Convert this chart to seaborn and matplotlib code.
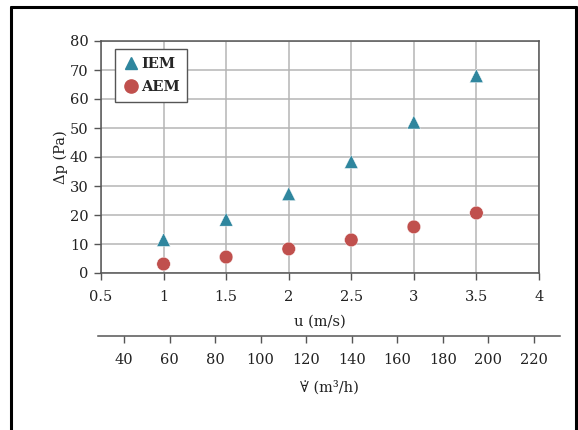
import matplotlib
matplotlib.use("Agg")
import matplotlib.pyplot as plt
import seaborn as sns
import pandas as pd
from matplotlib.lines import Line2D

u = [1.0, 1.5, 2.0, 2.5, 3.0, 3.5]
iem = [11.5, 18.5, 27.3, 38.4, 52.0, 68.0]
aem = [3.1, 5.5, 8.3, 11.4, 15.9, 20.7]
x_ticks = [0.5, 1, 1.5, 2, 2.5, 3, 3.5, 4]
x_ticklabels = ["0.5", "1", "1.5", "2", "2.5", "3", "3.5", "4"]
y_ticks = [0, 10, 20, 30, 40, 50, 60, 70, 80]
v_ticks = [40, 60, 80, 100, 120, 140, 160, 180, 200, 220]

df = pd.DataFrame({
    "u": u * 2,
    "dp": iem + aem,
    "series": ["IEM"] * len(u) + ["AEM"] * len(u),
})

sns.set_style("white")
plt.rcParams["font.family"] = ["DejaVu Serif", "DejaVu Sans"]

W, H = 578, 430
fig = plt.figure(figsize=(W / 100, H / 100), dpi=100)

L, R, T, B = 101, 539, 41, 273
ax = fig.add_axes([L / W, 1 - B / H, (R - L) / W, (B - T) / H])
palette = {"IEM": "#2F869E", "AEM": "#C0504D"}
markers = {"IEM": "^", "AEM": "o"}
sns.scatterplot(data=df, x="u", y="dp", hue="series", style="series",
                palette=palette, markers=markers, s=95, linewidth=0.3,
                edgecolor="white", ax=ax, legend=False, zorder=3)
ax.set_xlim(0.5, 4)
ax.set_ylim(0, 80)
ax.set_xticks(x_ticks)
ax.set_xticklabels(x_ticklabels)
ax.set_yticks(y_ticks)
ax.grid(True, color="#b5b5b5", linewidth=1.1)
ax.set_axisbelow(True)
for sp in ax.spines.values():
    sp.set_visible(True)
    sp.set_color("#555555")
    sp.set_linewidth(1.1)
ax.tick_params(axis="both", direction="out", length=5, width=1, color="#555555",
               labelsize=10.5, labelcolor="#222222", pad=4, bottom=True, left=True)
ax.tick_params(axis="x", pad=7)
ax.set_xlabel("u (m/s)", fontsize=10.5, color="#222222", labelpad=8)
ax.set_ylabel("Δp (Pa)", fontsize=10.5, color="#222222", labelpad=1)

handles = [
    Line2D([], [], marker="^", linestyle="none", color=palette["IEM"], markersize=9),
    Line2D([], [], marker="o", linestyle="none", color=palette["AEM"], markersize=9.5),
]
leg = ax.legend(handles, ["IEM", "AEM"], loc="upper left", bbox_to_anchor=(0.015, 0.995),
                frameon=True, fancybox=False, edgecolor="#555555", framealpha=1,
                handletextpad=0.1, handlelength=1.2, borderpad=0.5,
                labelspacing=0.65, prop={"weight": "bold", "size": 10.5})
leg.get_frame().set_linewidth(1)

# secondary volumetric flow axis
x0, x1, yv = 98, 560, 336
ax2 = fig.add_axes([x0 / W, 1 - yv / H, (x1 - x0) / W, 0.001])
ax2.set_xlim(28.6, 231.4)
ax2.set_xticks(v_ticks)
ax2.set_yticks([])
for k in ["top", "left", "right"]:
    ax2.spines[k].set_visible(False)
ax2.spines["bottom"].set_color("#555555")
ax2.spines["bottom"].set_linewidth(1.1)
ax2.patch.set_alpha(0)
ax2.tick_params(axis="x", direction="out", length=5, width=1, color="#555555",
                labelsize=10.5, labelcolor="#222222", pad=7, bottom=True)
ax2.set_xlabel("\u2200\u0307 (m³/h)", fontsize=10.5, color="#222222", labelpad=10)

# outer frame
frame_kw = dict(color="black", linewidth=2.2, transform=fig.transFigure)
fig.add_artist(Line2D([11 / W, 11 / W], [0, 1 - 7 / H], **frame_kw))
fig.add_artist(Line2D([11 / W, 576 / W], [1 - 7 / H, 1 - 7 / H], **frame_kw))
fig.add_artist(Line2D([576 / W, 576 / W], [0, 1 - 7 / H], **frame_kw))

fig.savefig("out.png", dpi=100)
